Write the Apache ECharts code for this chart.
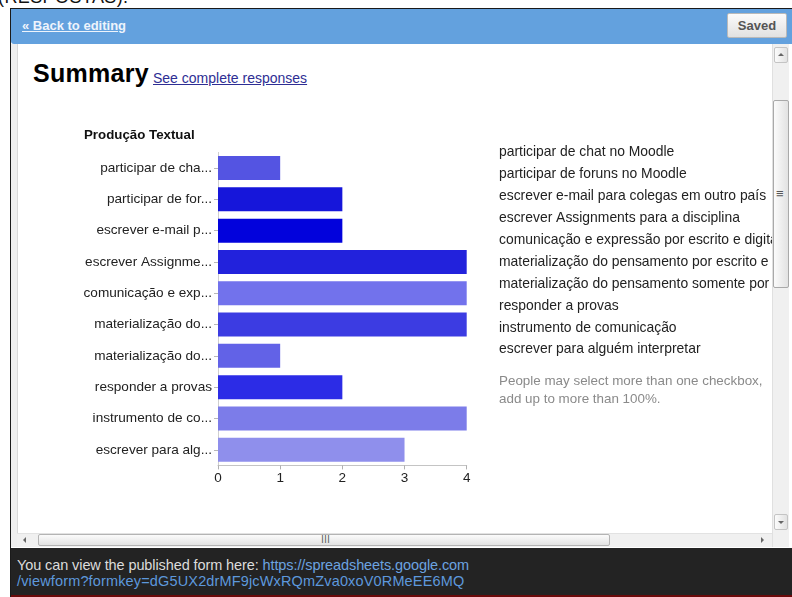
<!DOCTYPE html>
<html lang="pt">
<head>
<meta charset="utf-8">
<title>Summary</title>
<script src="https://cdn.jsdelivr.net/npm/echarts@6/dist/echarts.min.js"></script>
<style>
  html, body { margin:0; padding:0; }
  body { width:792px; height:597px; overflow:hidden; position:relative; background:#fff;
         font-family: Arial, "Liberation Sans", sans-serif; }
  .abs { position:absolute; }
  #caption { left:-2px; top:-13px; font-size:18px; color:#111; white-space:nowrap; letter-spacing:0.4px; }
  #frame { left:10px; top:8px; width:782px; height:589px; border-left:1px solid #1a1a1a; border-top:1px solid #1a1a1a; box-sizing:border-box; }
  #header { left:11px; top:9px; width:781px; height:35px; background:#63a1de; border-bottom-left-radius:3px; }
  #back { left:22px; top:18px; font-size:13px; line-height:16px; font-weight:bold; color:#eef4fc; text-decoration:underline; white-space:nowrap; }
  #saved { left:727px; top:13px; width:60px; height:25px; box-sizing:border-box; border:1px solid #b9b9b9; border-radius:2px;
           background:linear-gradient(#fbfbfb,#e1e1e1); color:#555; font-size:13px; font-weight:bold; line-height:23px; text-align:center; }
  #content { left:11px; top:44px; width:761px; height:489px; background:#fff; }
  #gutter { left:11px; top:44px; width:7px; height:503px; background:#eeeeee; border-right:1px solid #d8d8d8; box-sizing:border-box; }
  #summary { left:33px; top:59px; font-size:25px; font-weight:bold; color:#000; letter-spacing:0.3px; line-height:29px; white-space:nowrap; }
  #complete { left:153px; top:70px; font-size:14px; color:#2e2e94; text-decoration:underline; line-height:16px; white-space:nowrap; }
  #chart { left:17px; top:44px; width:755px; height:489px; }
  #vbar { left:772px; top:44px; width:17px; height:503px; background:#f0f0f0; border-left:1px solid #e0e0e0; box-sizing:border-box; }
  .btn { position:absolute; box-sizing:border-box; border:1px solid #c4c4c4; background:linear-gradient(90deg,#fbfbfb,#e2e2e2); border-radius:2px; }
  .tri { position:absolute; width:0; height:0; }
  #hbar { left:17px; top:533px; width:755px; height:14px; background:#f0f0f0; border-top:1px solid #e2e2e2; box-sizing:border-box; }
  #footer { left:11px; top:548px; width:781px; height:47px; background:#232323; }
  #redline { left:11px; top:595px; width:781px; height:2px; background:#6a0a0a; }
  #foot { left:17px; top:558px; font-size:14.5px; line-height:15.5px; color:#dcdcdc; white-space:nowrap; letter-spacing:-0.1px; }
  #foot .lk { color:#6ca3e0; }
  #foot .lk2 { color:#5d98dc; letter-spacing:0.15px; }
</style>
</head>
<body>
<div id="caption" class="abs">(RESPOSTAS).</div>
<div id="frame" class="abs"></div>
<div id="header" class="abs"></div>
<div id="back" class="abs">« Back to editing</div>
<div id="saved" class="abs">Saved</div>
<div id="content" class="abs"></div>
<div id="gutter" class="abs"></div>
<div id="summary" class="abs">Summary</div>
<div id="complete" class="abs">See complete responses</div>
<div id="chart" class="abs"></div>

<!-- vertical scrollbar -->
<div id="vbar" class="abs"></div>
<div class="btn" style="left:774px;top:47px;width:14px;height:16px;"></div>
<div class="tri" style="left:778px;top:53px;border-left:3px solid transparent;border-right:3px solid transparent;border-bottom:3px solid #666;"></div>
<div class="btn" style="left:773px;top:100px;width:16px;height:188px;border-color:#a9a9a9;"></div>
<div class="abs" style="left:776px;top:187px;font-size:13px;color:#555;line-height:14px;">≡</div>
<div class="btn" style="left:774px;top:514px;width:14px;height:16px;"></div>
<div class="tri" style="left:778px;top:521px;border-left:3px solid transparent;border-right:3px solid transparent;border-top:3px solid #666;"></div>

<!-- horizontal scrollbar -->
<div id="hbar" class="abs"></div>
<div class="tri" style="left:23px;top:537px;border-top:3px solid transparent;border-bottom:3px solid transparent;border-right:3px solid #666;"></div>
<div class="btn" style="left:38px;top:534px;width:572px;height:12px;background:linear-gradient(#fbfbfb,#e2e2e2);border-color:#b4b4b4;"></div>
<div class="abs" style="left:321px;top:535px;font-size:10px;line-height:10px;color:#666;letter-spacing:0px;font-family:'DejaVu Sans';">III</div>
<div class="tri" style="left:761px;top:537px;border-top:3px solid transparent;border-bottom:3px solid transparent;border-left:3px solid #666;"></div>

<!-- footer -->
<div id="footer" class="abs"></div>
<div id="redline" class="abs"></div>
<div id="foot" class="abs">You can view the published form here: <span class="lk">https://spreadsheets.google.com</span><br><span class="lk2">/viewform?formkey=dG5UX2drMF9jcWxRQmZva0xoV0RMeEE6MQ</span></div>

<script>
// Question and its answer options, in the order they are listed
const chartTitle = 'Produção Textual';
const categories = [
  'participar de chat no Moodle',
  'participar de foruns no Moodle',
  'escrever e-mail para colegas em outro país',
  'escrever Assignments para a disciplina',
  'comunicação e expressão por escrito e digital',
  'materialização do pensamento por escrito e oral',
  'materialização do pensamento somente por escrito',
  'responder a provas',
  'instrumento de comunicação',
  'escrever para alguém interpretar'
];
// Number of respondents who ticked each option
const responses = [1, 2, 2, 4, 4, 4, 1, 2, 4, 3];
// One shade of blue per option
const barColors = [
  '#5454e2', '#1616da', '#0202dc', '#2222dc', '#7272ec',
  '#3c3ce2', '#6262e7', '#2c2ce6', '#7c7ce9', '#8f8fec'
];
// Count axis ticks
const valueTicks = [0, 1, 2, 3, 4];
const noteLines = [
  'People may select more than one checkbox,',
  'add up to more than 100%.'
];

const FONT = 'Arial, "Liberation Sans", sans-serif';

// Long option names are cut to 17 characters on the axis
function shortLabel(s) {
  return s.length > 18 ? s.slice(0, 17) + '...' : s;
}

const legendTop = 108.5, legendStep = 21.9, legendLeft = 482;

const graphics = [
  {
    type: 'text', x: 67, y: 91,
    style: { text: chartTitle, fill: '#111', fontSize: 13.3, fontWeight: 'bold',
             fontFamily: FONT, verticalAlign: 'middle' }
  }
];
categories.forEach(function (name, i) {
  graphics.push({
    type: 'text', x: legendLeft, y: legendTop + i * legendStep,
    style: { text: name, fill: '#222', fontSize: 13.9, fontFamily: FONT, verticalAlign: 'middle' }
  });
});
noteLines.forEach(function (line, i) {
  graphics.push({
    type: 'text', x: legendLeft, y: 337 + i * 18,
    style: { text: line, fill: '#8a8a8a', fontSize: 13.4, fontFamily: FONT, verticalAlign: 'middle' }
  });
});

const chart = echarts.init(document.getElementById('chart'), null, { renderer: 'canvas' });
chart.setOption({
  animation: false,
  backgroundColor: 'transparent',
  textStyle: { fontFamily: FONT },
  grid: { left: 201, top: 108.4, width: 248.7, height: 313 },
  xAxis: {
    type: 'value',
    min: valueTicks[0],
    max: valueTicks[valueTicks.length - 1],
    interval: valueTicks[1] - valueTicks[0],
    splitLine: { show: false },
    axisLine: { show: true, lineStyle: { color: '#c4c4c4', width: 1 } },
    axisTick: { show: true, length: 4, lineStyle: { color: '#b0b0b0' } },
    axisLabel: { color: '#222', fontSize: 13.5, margin: 6, fontFamily: FONT }
  },
  yAxis: {
    type: 'category',
    inverse: true,
    data: categories,
    axisLine: { show: true, lineStyle: { color: '#cfcfcf', width: 1 } },
    axisTick: { show: true, alignWithLabel: true, length: 4, lineStyle: { color: '#b8b8b8' } },
    axisLabel: { color: '#222', fontSize: 13.6, margin: 6, fontFamily: FONT, formatter: shortLabel }
  },
  series: [{
    type: 'bar',
    barWidth: 24,
    data: responses.map(function (v, i) {
      return { value: v, itemStyle: { color: barColors[i] } };
    })
  }],
  graphic: graphics
});
</script>
</body>
</html>
